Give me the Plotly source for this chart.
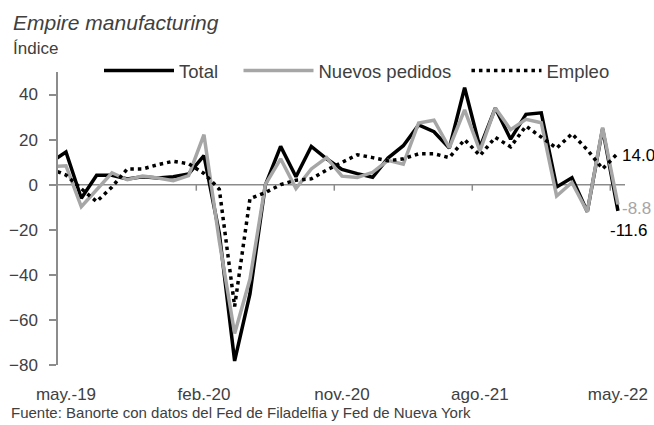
import plotly.graph_objects as go

# Months: index 0 = may.-19 ; index -1 = abr.-19 (clipped by axis)
months = ["abr.-19", "may.-19", "jun.-19", "jul.-19", "ago.-19", "sep.-19", "oct.-19", "nov.-19", "dic.-19",
          "ene.-20", "feb.-20", "mar.-20", "abr.-20", "may.-20", "jun.-20", "jul.-20", "ago.-20", "sep.-20",
          "oct.-20", "nov.-20", "dic.-20", "ene.-21", "feb.-21", "mar.-21", "abr.-21", "may.-21", "jun.-21",
          "jul.-21", "ago.-21", "sep.-21", "oct.-21", "nov.-21", "dic.-21", "ene.-22", "feb.-22", "mar.-22",
          "abr.-22", "may.-22"]

total = [10.0, 14.5, -6.0, 4.2, 4.2, 2.5, 3.5, 3.0, 3.5, 4.8, 12.9,
         -21.5, -78.2, -48.5, -0.2, 17.0, 3.5, 17.0, 11.5, 6.8, 4.9,
         3.3, 11.8, 17.3, 26.5, 23.5, 16.2, 43.0, 16.5, 34.0, 20.2,
         31.2, 31.9, -1.0, 3.1, -12.0, 24.8, -11.6]

nuevos = [8.0, 8.4, -9.8, -2.0, 5.3, 2.2, 3.8, 3.0, 1.8, 4.0, 22.2,
          -25.0, -66.0, -42.0, 0.0, 11.5, -1.7, 7.0, 12.0, 3.8, 3.2,
          5.5, 10.8, 9.1, 27.4, 28.6, 16.4, 33.2, 15.0, 34.0, 24.4,
          29.0, 27.5, -5.0, 1.0, -12.0, 25.3, -8.8]

empleo = [7.0, 4.3, -1.8, -7.5, -1.0, 7.0, 7.0, 8.9, 10.4, 9.3, 5.0,
          -2.0, -54.0, -6.2, -3.5, 0.0, 2.0, 2.6, 6.5, 10.0, 13.3,
          12.0, 10.6, 11.5, 13.7, 13.7, 12.0, 20.0, 12.9, 21.0, 16.8,
          26.0, 21.0, 16.2, 22.6, 15.5, 7.0, 14.0]

series_names = ["Total", "Nuevos pedidos", "Empleo"]
tick_idx = [0, 9, 18, 27, 36]
tick_text = ["may.-19", "feb.-20", "nov.-20", "ago.-21", "may.-22"]
y_ticks = [40, 20, 0, -20, -40, -60, -80]

x = list(range(-1, len(months) - 1))

FONT = "Liberation Sans, Arial, sans-serif"
TXT = "#404040"
W, H = 654, 425
L, T, R, B = 58, 72, 29, 60
PW, PH = W - L - R, H - T - B
NB = "\u00a0"

fig = go.Figure()
fig.add_trace(go.Scatter(x=x, y=total, name=series_names[0] + NB * 3, mode="lines",
                         line=dict(color="black", width=3.5)))
fig.add_trace(go.Scatter(x=x, y=nuevos, name=series_names[1] + NB * 2, mode="lines",
                         line=dict(color="#a6a6a6", width=3.5)))
fig.add_trace(go.Scatter(x=x, y=empleo, name=series_names[2], mode="lines",
                         line=dict(color="black", width=3.5, dash="3.5px,4px")))

# zero line across the plot and its tick marks
fig.add_shape(type="line", xref="paper", yref="y", x0=0, x1=1, y0=0, y1=0,
              line=dict(color="#8c8c8c", width=1.5), layer="below")
for t in [8.5, 17.5, 26.5, 35.5]:
    fig.add_shape(type="line", xref="x", yref="y", ysizemode="pixel", yanchor=0,
                  x0=t, x1=t, y0=0, y1=-6, line=dict(color="#8c8c8c", width=1.5), layer="below")

# end labels
fig.add_annotation(x=36, y=empleo[-1], text="14.0", showarrow=False, xanchor="left",
                   xshift=2, yshift=-2, font=dict(family=FONT, size=17, color="black"))
fig.add_annotation(x=36, y=nuevos[-1], text="-8.8", showarrow=False, xanchor="left",
                   xshift=2, yshift=-4, font=dict(family=FONT, size=17, color="#a6a6a6"))
fig.add_annotation(x=36, y=total[-1], text="-11.6", showarrow=False, xanchor="left",
                   xshift=-10, yshift=-20, font=dict(family=FONT, size=17, color="black"))

# titles and source
fig.add_annotation(xref="paper", yref="paper", x=-L / PW, y=1 + (T - 23) / PH, text="<i>Empire manufacturing</i>",
                   showarrow=False, xanchor="left", yanchor="middle", xshift=11,
                   font=dict(family=FONT, size=21, color=TXT))
fig.add_annotation(xref="paper", yref="paper", x=-L / PW, y=1 + (T - 48) / PH, text="Índice",
                   showarrow=False, xanchor="left", yanchor="middle", xshift=11,
                   font=dict(family=FONT, size=17, color=TXT))
fig.add_annotation(xref="paper", yref="paper", x=-L / PW, y=-(412 - (H - B)) / PH,
                   text="Fuente: Banorte con datos del Fed de Filadelfia y Fed de Nueva York",
                   showarrow=False, xanchor="left", yanchor="middle", xshift=9,
                   font=dict(family=FONT, size=15, color=TXT))

fig.update_layout(
    width=W, height=H,
    margin=dict(l=L, r=R, t=T, b=B, autoexpand=False),
    paper_bgcolor="white", plot_bgcolor="white",
    font=dict(family=FONT, size=17, color=TXT),
    showlegend=True,
    legend=dict(orientation="h", x=(99 - 58) / PW, y=1 + 1 / PH, xanchor="left", yanchor="middle",
                itemwidth=70, font=dict(family=FONT, size=18.5, color=TXT),
                bgcolor="rgba(0,0,0,0)", tracegroupgap=0, itemclick=False),
    xaxis=dict(range=[-0.52, 36.46], tickmode="array", tickvals=tick_idx, ticktext=tick_text,
               showgrid=False, zeroline=False, showline=False, ticks="outside", ticklen=0,
               tickcolor="rgba(0,0,0,0)", ticklabelstandoff=14, fixedrange=True, automargin=False),
    yaxis=dict(range=[-80, 50], tickmode="array", tickvals=y_ticks, showgrid=False, zeroline=False,
               showline=True, linecolor="#8c8c8c", linewidth=1.5, ticks="outside", ticklen=7,
               tickcolor="#8c8c8c", tickwidth=1.5, ticklabelstandoff=8, fixedrange=True, automargin=False),
)

fig.write_html("out.html", config={"displayModeBar": False},
               post_script="document.body.style.margin='0';document.body.style.overflow='hidden';")
